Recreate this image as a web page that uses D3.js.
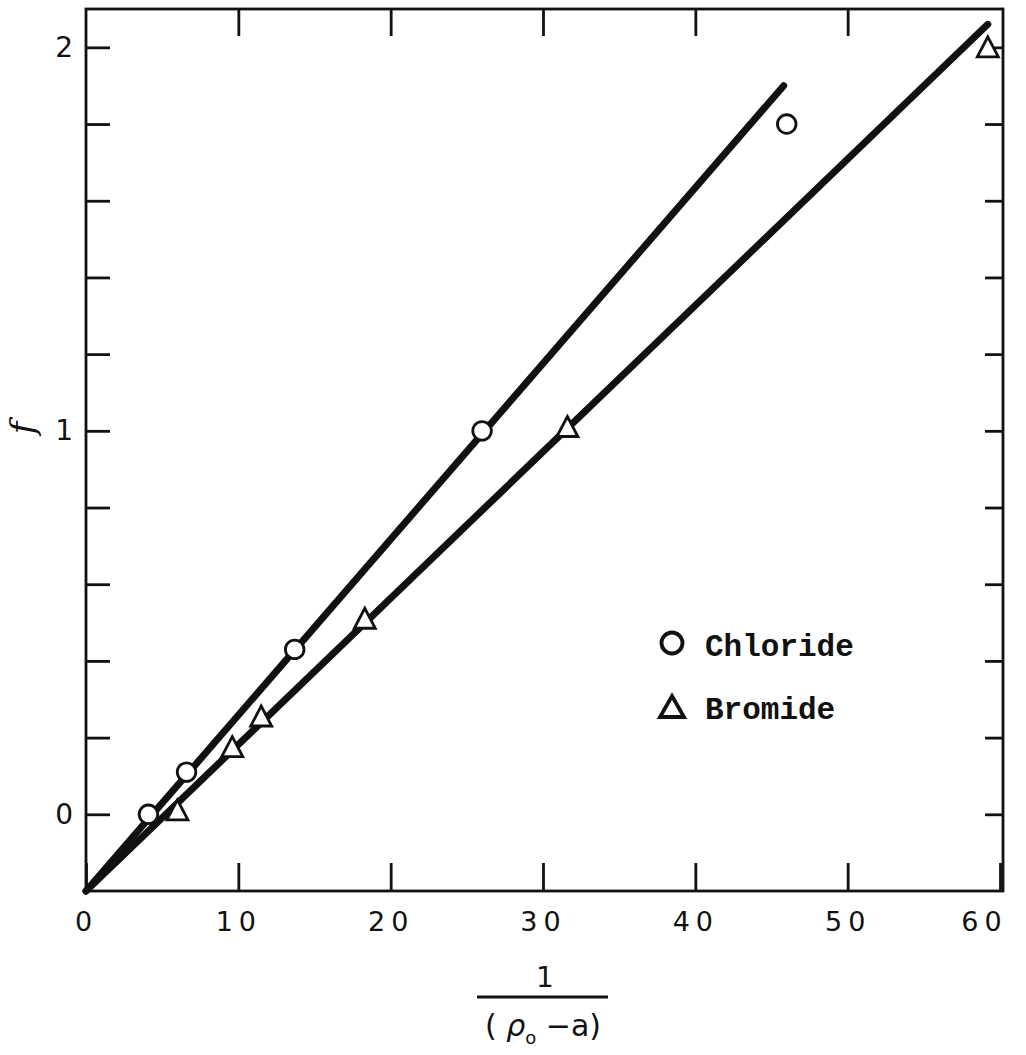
<!DOCTYPE html>
<html>
<head>
<meta charset="utf-8">
<script src="https://cdn.jsdelivr.net/npm/d3@7"></script>
<style>
  body { margin: 0; background: #fff; }
  svg { display: block; }
  .axis text { font-family: "DejaVu Sans", sans-serif; font-size: 27px; fill: #111; letter-spacing: 6px; }
  .yaxis text { letter-spacing: 0; font-size: 28px; }
  .axis path { display: none; }
  .axis line { stroke: #111; stroke-width: 2.8; }
</style>
</head>
<body>
<svg id="chart" width="1026" height="1055"></svg>
<script>
const chlorideX = [4.1, 6.6, 13.7, 26.0, 46.0];
const chlorideF = [0.0, 0.11, 0.43, 1.0, 1.8];
const bromideX = [6.0, 9.6, 11.5, 18.3, 31.6, 59.2];
const bromideF = [0.01, 0.175, 0.255, 0.51, 1.01, 2.0];

// fitted straight lines, start and end
const chlorideFitX = [0, 45.8];
const chlorideFitF = [-0.2, 1.9];
const bromideFitX = [0, 59.2];
const bromideFitF = [-0.2, 2.06];

const xTicks = [0, 10, 20, 30, 40, 50, 60];
const yTicks = [0, 0.2, 0.4, 0.6, 0.8, 1.0, 1.2, 1.4, 1.6, 1.8, 2.0];
const yLabels = [0, 1, 2];

const svg = d3.select("#chart");
const mLeft = 86, mRight = 1000, mTop = 9, mBottom = 891, frameRight = 1003;

const x = d3.scaleLinear().domain([0, 60]).range([mLeft, mRight]);
const y = d3.scaleLinear().domain([-0.2, 2.1]).range([mBottom, mTop]);

// frame
svg.append("rect")
    .attr("x", mLeft).attr("y", mTop)
    .attr("width", frameRight - mLeft).attr("height", mBottom - mTop)
    .attr("fill", "none").attr("stroke", "#111").attr("stroke-width", 2.8);

// bottom axis, ticks pointing in
const gx = svg.append("g").attr("class", "axis")
    .attr("transform", `translate(0,${mBottom})`)
    .call(d3.axisBottom(x).tickValues(xTicks).tickSizeInner(-28).tickSizeOuter(0).tickPadding(21).tickFormat(d3.format("d")));
gx.selectAll(".tick text").filter(d => d === 60).attr("dx", -16);

// top ticks
svg.append("g").attr("class", "axis")
    .attr("transform", `translate(0,${mTop})`)
    .call(d3.axisTop(x).tickValues(xTicks.slice(1, -1)).tickSizeInner(-27).tickSizeOuter(0).tickFormat(""));

// left axis
svg.append("g").attr("class", "axis yaxis")
    .attr("transform", `translate(${mLeft},0)`)
    .call(d3.axisLeft(y).tickValues(yTicks).tickSizeInner(-24).tickSizeOuter(0).tickPadding(13)
        .tickFormat(d => yLabels.some(v => Math.abs(v - d) < 1e-9) ? d3.format("d")(d) : ""));

// right ticks
svg.append("g").attr("class", "axis")
    .attr("transform", `translate(${frameRight},0)`)
    .call(d3.axisRight(y).tickValues(yTicks).tickSizeInner(-18).tickSizeOuter(0).tickFormat(""));

// fit lines
const line = d3.line().x(d => x(d[0])).y(d => y(d[1]));
svg.append("path")
    .datum(d3.zip(chlorideFitX, chlorideFitF))
    .attr("d", line).attr("fill", "none").attr("stroke", "#111").attr("stroke-width", 7).attr("stroke-linecap", "round");
svg.append("path")
    .datum(d3.zip(bromideFitX, bromideFitF))
    .attr("d", line).attr("fill", "none").attr("stroke", "#111").attr("stroke-width", 7).attr("stroke-linecap", "round");

// markers
const tri = "M0,-10.5L10.5,9.5L-10.5,9.5Z";
svg.append("g").selectAll("circle")
    .data(d3.zip(chlorideX, chlorideF))
    .join("circle")
    .attr("cx", d => x(d[0])).attr("cy", d => y(d[1])).attr("r", 9.3)
    .attr("fill", "#fff").attr("stroke", "#111").attr("stroke-width", 2.8);
svg.append("g").selectAll("path")
    .data(d3.zip(bromideX, bromideF))
    .join("path")
    .attr("d", tri)
    .attr("transform", d => `translate(${x(d[0])},${y(d[1])})`)
    .attr("fill", "#fff").attr("stroke", "#111").attr("stroke-width", 2.8).attr("stroke-linejoin", "miter");

// legend
const lg = svg.append("g").attr("transform", "translate(672,0)");
lg.append("circle").attr("cx", 0).attr("cy", 643).attr("r", 10.5)
    .attr("fill", "#fff").attr("stroke", "#111").attr("stroke-width", 3.8);
lg.append("path").attr("d", "M0,-11L12,10L-12,10Z").attr("transform", "translate(0,707)")
    .attr("fill", "#fff").attr("stroke", "#111").attr("stroke-width", 3.8);
const legendText = ["Chloride", "Bromide"];
lg.selectAll("text.lab").data(legendText).join("text")
    .attr("class", "lab")
    .attr("x", 33).attr("y", (d, i) => 656 + i * 63)
    .attr("font-family", "'Liberation Mono', 'Courier New', monospace")
    .attr("font-weight", "bold")
    .attr("font-size", 31)
    .attr("fill", "#111")
    .text(d => d);

// y axis title
svg.append("text")
    .attr("transform", "translate(34,428) rotate(-90)")
    .attr("text-anchor", "middle")
    .attr("font-family", "'DejaVu Serif', serif")
    .attr("font-style", "italic")
    .attr("font-size", 34)
    .attr("fill", "#111")
    .text("f");

// x axis title as a fraction
svg.append("text")
    .attr("x", 545).attr("y", 987)
    .attr("text-anchor", "middle")
    .attr("font-family", "'DejaVu Sans', sans-serif")
    .attr("font-size", 28).attr("fill", "#111")
    .text("1");
svg.append("line")
    .attr("x1", 477).attr("x2", 608).attr("y1", 997).attr("y2", 997)
    .attr("stroke", "#111").attr("stroke-width", 2.8);
const den = svg.append("text")
    .attr("x", 543).attr("y", 1036)
    .attr("text-anchor", "middle")
    .attr("font-family", "'DejaVu Sans', sans-serif")
    .attr("font-size", 30).attr("fill", "#111");
den.append("tspan").text("( ");
den.append("tspan").attr("font-style", "italic").text("ρ");
den.append("tspan").attr("font-size", 18).attr("dy", 8).text("o");
den.append("tspan").attr("dy", -8).text("  −a)");
</script>
</body>
</html>
